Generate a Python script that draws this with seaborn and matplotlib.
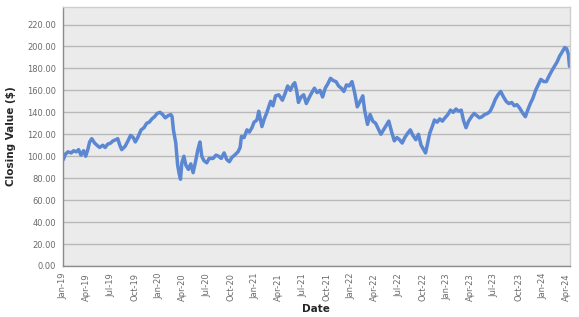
import seaborn as sns
import matplotlib.pyplot as plt
import matplotlib.dates as mdates
import matplotlib.ticker as mticker
import pandas as pd

# valores (aprox.)
dates_2019 = ["2019-01-02", "2019-01-10", "2019-01-20", "2019-02-01", "2019-02-10", "2019-02-20",
              "2019-03-01", "2019-03-10", "2019-03-20", "2019-03-28", "2019-04-05", "2019-04-12",
              "2019-04-20", "2019-05-01", "2019-05-10", "2019-05-20", "2019-06-01", "2019-06-10",
              "2019-06-20", "2019-07-01", "2019-07-10", "2019-07-20", "2019-07-28", "2019-08-05",
              "2019-08-12", "2019-08-25", "2019-09-05", "2019-09-15", "2019-09-25", "2019-10-03",
              "2019-10-12", "2019-10-25", "2019-11-05", "2019-11-15", "2019-11-25", "2019-12-05",
              "2019-12-15", "2019-12-25"]
values_2019 = [97, 102, 104, 103, 105, 104, 106, 101, 105, 100, 106, 113,
               116, 112, 110, 108, 110, 108, 111, 112, 114, 115, 116, 110,
               106, 109, 114, 119, 117, 113, 117, 124, 126, 130, 131, 134,
               136, 139]

dates_2020 = ["2020-01-05", "2020-01-15", "2020-01-25", "2020-02-05", "2020-02-15", "2020-02-20",
              "2020-02-25", "2020-03-05", "2020-03-12", "2020-03-18", "2020-03-23", "2020-03-28",
              "2020-04-05", "2020-04-12", "2020-04-22", "2020-05-01", "2020-05-10", "2020-05-20",
              "2020-05-28", "2020-06-05", "2020-06-12", "2020-06-20", "2020-07-01", "2020-07-10",
              "2020-07-25", "2020-08-05", "2020-08-15", "2020-08-25", "2020-09-05", "2020-09-15",
              "2020-09-25", "2020-10-05", "2020-10-15", "2020-10-28", "2020-11-05", "2020-11-10",
              "2020-11-20", "2020-12-01", "2020-12-10", "2020-12-20", "2020-12-28"]
values_2020 = [140, 138, 135, 137, 138, 136, 124, 112, 92, 84, 79, 94,
               100, 92, 88, 93, 85, 96, 106, 113, 100, 96, 94, 98,
               98, 101, 100, 98, 103, 97, 95, 99, 101, 104, 108, 118,
               117, 124, 122, 126, 131]

dates_2021 = ["2021-01-08", "2021-01-15", "2021-01-27", "2021-02-05", "2021-02-15", "2021-03-01",
              "2021-03-10", "2021-03-20", "2021-04-01", "2021-04-15", "2021-04-25", "2021-05-05",
              "2021-05-15", "2021-05-25", "2021-06-01", "2021-06-08", "2021-06-15", "2021-06-25",
              "2021-07-05", "2021-07-15", "2021-07-25", "2021-08-05", "2021-08-15", "2021-08-25",
              "2021-09-05", "2021-09-15", "2021-09-25", "2021-10-05", "2021-10-15", "2021-10-25",
              "2021-11-05", "2021-11-15", "2021-11-25", "2021-12-05", "2021-12-15", "2021-12-25"]
values_2021 = [133, 141, 127, 134, 140, 150, 146, 155, 156, 151, 157, 164,
               160, 165, 167, 160, 149, 154, 156, 148, 153, 158, 162, 158,
               160, 154, 162, 166, 171, 169, 168, 164, 162, 159, 165, 164]

dates_2022 = ["2022-01-05", "2022-01-15", "2022-01-25", "2022-02-05", "2022-02-15", "2022-02-22",
              "2022-03-05", "2022-03-15", "2022-03-25", "2022-04-05", "2022-04-15", "2022-04-25",
              "2022-05-05", "2022-05-15", "2022-05-25", "2022-06-05", "2022-06-15", "2022-06-25",
              "2022-07-05", "2022-07-15", "2022-07-25", "2022-08-05", "2022-08-15", "2022-08-25",
              "2022-09-05", "2022-09-15", "2022-09-25", "2022-10-05", "2022-10-12", "2022-10-20",
              "2022-10-28", "2022-11-05", "2022-11-15", "2022-11-25", "2022-12-05", "2022-12-15",
              "2022-12-25"]
values_2022 = [168, 158, 145, 150, 155, 142, 129, 138, 132, 130, 125, 120,
               124, 128, 132, 122, 114, 117, 115, 112, 117, 121, 124, 119,
               115, 120, 110, 106, 103, 112, 121, 126, 133, 131, 134, 132,
               135]

dates_2023 = ["2023-01-05", "2023-01-15", "2023-01-25", "2023-02-05", "2023-02-15", "2023-02-25",
              "2023-03-05", "2023-03-15", "2023-03-25", "2023-04-05", "2023-04-15", "2023-04-25",
              "2023-05-05", "2023-05-15", "2023-05-25", "2023-06-05", "2023-06-15", "2023-06-25",
              "2023-07-05", "2023-07-15", "2023-07-25", "2023-08-05", "2023-08-15", "2023-08-25",
              "2023-09-05", "2023-09-15", "2023-09-25", "2023-10-05", "2023-10-15", "2023-10-27",
              "2023-11-05", "2023-11-15", "2023-11-25", "2023-12-05", "2023-12-15", "2023-12-25"]
values_2023 = [138, 142, 140, 143, 141, 142, 133, 126, 132, 136, 139, 137,
               135, 136, 138, 139, 141, 146, 152, 156, 159, 154, 150, 148,
               149, 146, 147, 144, 140, 136, 142, 148, 153, 160, 165, 170]

dates_2024 = ["2024-01-05", "2024-01-15", "2024-01-25", "2024-02-05", "2024-02-15", "2024-02-25",
              "2024-03-05", "2024-03-15", "2024-03-25", "2024-04-01", "2024-04-08", "2024-04-12"]
values_2024 = [168, 168, 173, 178, 182, 186, 191, 195, 199, 198, 193, 182]

y_ticks = [0, 20, 40, 60, 80, 100, 120, 140, 160, 180, 200, 220]

df = pd.DataFrame({
    "Date": pd.to_datetime(dates_2019 + dates_2020 + dates_2021 + dates_2022 + dates_2023 + dates_2024),
    "Close": values_2019 + values_2020 + values_2021 + values_2022 + values_2023 + values_2024,
})

sns.set_style("white")
plt.rcParams['font.family'] = ['DejaVu Sans']

fig, ax = plt.subplots(figsize=(5.79, 3.17), dpi=100)
fig.subplots_adjust(left=0.109, right=0.984, top=0.978, bottom=0.161)
ax.set_facecolor("#ebebeb")

sns.lineplot(data=df, x="Date", y="Close", ax=ax, color="#5b87d3", linewidth=2.5)

ax.set_ylim(0, 236)
ax.set_yticks(y_ticks)
ax.yaxis.set_major_formatter(mticker.FormatStrFormatter("%.2f"))
ax.set_xlim(pd.Timestamp("2019-01-01"), pd.Timestamp("2024-04-13"))
ax.xaxis.set_major_locator(mdates.MonthLocator(bymonth=[1, 4, 7, 10]))
ax.xaxis.set_major_formatter(mdates.DateFormatter("%b-%y"))

ax.grid(axis="y", color="#b9b9b9", linewidth=1.0)
ax.set_axisbelow(True)

ax.tick_params(axis="both", labelsize=6.0, labelcolor="#6b6b6b", color="#888888",
               length=3, width=0.8, direction="out", pad=2)
ax.tick_params(axis="x", rotation=90)

for side in ["left", "bottom"]:
    ax.spines[side].set_color("#8c8c8c")
    ax.spines[side].set_linewidth(1.0)
for side in ["top", "right"]:
    ax.spines[side].set_color("#cfcfcf")
    ax.spines[side].set_linewidth(1.0)

ax.set_xlabel("Date", fontsize=7.5, fontweight="bold", labelpad=2)
ax.set_ylabel("Closing Value ($)", fontsize=7.5, fontweight="bold", labelpad=8)

plt.savefig("out.png", dpi=100)
